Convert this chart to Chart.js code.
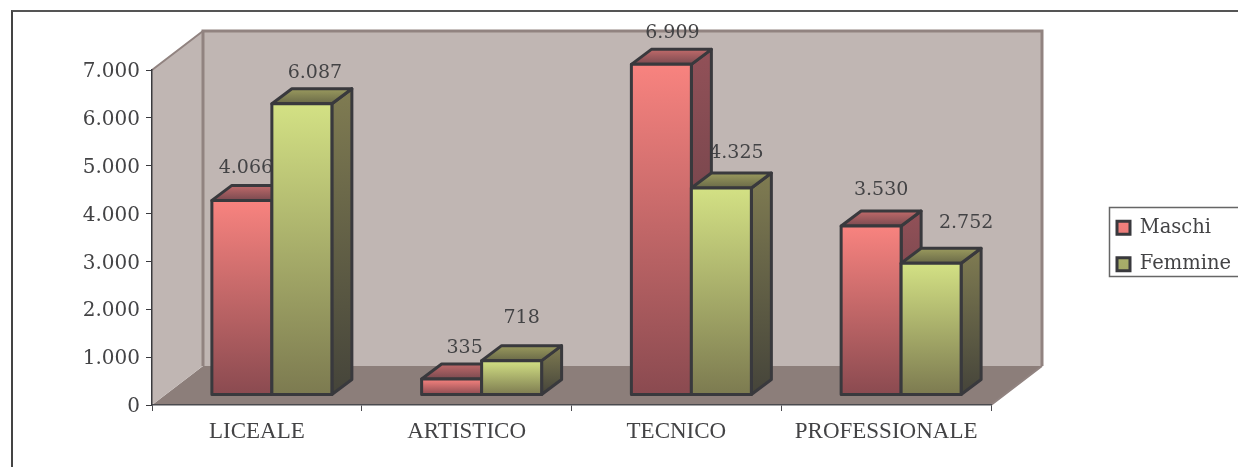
<!DOCTYPE html>
<html lang="it">
<head>
<meta charset="utf-8">
<title>Iscritti per tipo di scuola</title>
<script src="https://cdn.jsdelivr.net/npm/chart.js@4"></script>
<style>
    html, body { margin: 0; padding: 0; background: #fff; }
    #frame { position: absolute; left: 11px; top: 10px; width: 1227px; height: 457px; border-top: 2px solid #555; border-left: 2px solid #444; }
    canvas { position: absolute; left: 0; top: 0; }
</style>
</head>
<body>
<div id="frame"></div>
<canvas id="schoolChart" width="1238" height="467"></canvas>
<script>
// Dati
const categories = ['LICEALE', 'ARTISTICO', 'TECNICO', 'PROFESSIONALE'];
const maschi = [4066, 335, 6909, 3530];
const femmine = [6087, 718, 4325, 2752];
const yTickValues = [0, 1000, 2000, 3000, 4000, 5000, 6000, 7000];
const yTickLabels = ['0', '1.000', '2.000', '3.000', '4.000', '5.000', '6.000', '7.000'];
const maschiLabels = ['4.066', '335', '6.909', '3.530'];
const femmineLabels = ['6.087', '718', '4.325', '2.752'];

// Aspetto
const TEXT_COLOR = '#434345';
const EDGE_COLOR = '#39393d';
const NUM_FONT = '"DejaVu Serif", serif';
const CAT_FONT = '"Liberation Serif", serif';
const WALL_DEPTH = { x: 51, y: -39 };   // profondita della scatola 3D
const BAR_SHIFT = { x: 15, y: -10 };    // barre staccate dal bordo anteriore
const BAR_DEPTH = { x: 20, y: -15 };

const palette = [
    { front: ['#f8837f', '#8a4a50'], side: ['#925158', '#5a3a40'], top: ['#c06a6a', '#7a4a50'] },
    { front: ['#d3e184', '#7c7a50'], side: ['#807c52', '#45443a'], top: ['#9a9a5e', '#6a6a48'] }
];

// Spostamento delle etichette rispetto al centro della barra
const labelNudge = [
    [{ x: 4, y: -32 }, { x: 13, y: -31 }, { x: 11, y: -31 }, { x: 10, y: -36 }],
    [{ x: 13, y: -31 }, { x: 10, y: -43 }, { x: 15, y: -35 }, { x: 35, y: -40 }]
];
const datasetLabels = [maschiLabels, femmineLabels];

function verticalGradient(ctx, y0, y1, colors) {
    const g = ctx.createLinearGradient(0, y0, 0, y1);
    g.addColorStop(0, colors[0]);
    g.addColorStop(1, colors[1]);
    return g;
}

function polygon(ctx, points, fill, stroke, width) {
    ctx.beginPath();
    points.forEach((p, i) => i ? ctx.lineTo(p[0], p[1]) : ctx.moveTo(p[0], p[1]));
    ctx.closePath();
    if (fill) {
        ctx.fillStyle = fill;
        ctx.fill();
    }
    if (stroke) {
        ctx.strokeStyle = stroke;
        ctx.lineWidth = width;
        ctx.lineJoin = 'round';
        ctx.stroke();
    }
}

function barFill(index) {
    return function (context) {
        const ctx = context.chart.ctx;
        const colors = palette[index].front;
        if (context.raw === undefined) {
            // quadratino della legenda
            const y = index === 0 ? 218 : 254;
            return verticalGradient(ctx, y, y + 13, colors);
        }
        const scale = context.chart.scales.y;
        const y0 = scale.getPixelForValue(context.raw);
        const y1 = scale.getPixelForValue(0);
        // al primo reset le scale non hanno ancora una posizione
        if (!Number.isFinite(y0) || !Number.isFinite(y1)) {
            return colors[0];
        }
        return verticalGradient(ctx, y0, y1, colors);
    };
}

const box3d = {
    id: 'box3d',
    afterLayout(chart) {
        // La legenda sta fuori dall'area del grafico, sulla destra
        const legend = chart.legend;
        legend.left = 1100;
        legend.top = 201;
        legend.right = 1238;
        legend.bottom = 340;
    },
    beforeDraw(chart) {
        const ctx = chart.ctx;
        const a = chart.chartArea;
        const dx = WALL_DEPTH.x, dy = WALL_DEPTH.y;
        ctx.save();
        // pavimento, parete di fondo e parete sinistra
        polygon(ctx, [[a.left, a.bottom], [a.right, a.bottom], [a.right + dx, a.bottom + dy], [a.left + dx, a.bottom + dy]], '#8c7e7a');
        polygon(ctx, [[a.left + dx, a.top + dy], [a.right + dx, a.top + dy], [a.right + dx, a.bottom + dy], [a.left + dx, a.bottom + dy]], '#c0b6b3');
        polygon(ctx, [[a.left, a.top], [a.left + dx, a.top + dy], [a.left + dx, a.bottom + dy], [a.left, a.bottom]], '#c0b6b3');
        ctx.strokeStyle = '#918380';
        ctx.lineWidth = 3;
        ctx.beginPath();
        ctx.moveTo(a.left + dx, a.bottom + dy);
        ctx.lineTo(a.left + dx, a.top + dy);
        ctx.lineTo(a.right + dx, a.top + dy);
        ctx.lineTo(a.right + dx, a.bottom + dy);
        ctx.stroke();
        ctx.lineWidth = 2;
        ctx.beginPath();
        ctx.moveTo(a.left, a.top);
        ctx.lineTo(a.left + dx, a.top + dy);
        ctx.moveTo(a.right, a.bottom);
        ctx.lineTo(a.right + dx, a.bottom + dy);
        ctx.stroke();
        ctx.restore();
    },
    beforeDatasetsDraw(chart) {
        // Le etichette vanno sotto le barre: nell'originale vengono coperte
        const ctx = chart.ctx;
        ctx.save();
        ctx.font = '19px ' + NUM_FONT;
        ctx.fillStyle = TEXT_COLOR;
        ctx.textAlign = 'center';
        ctx.textBaseline = 'middle';
        datasetLabels.forEach((texts, d) => {
            chart.getDatasetMeta(d).data.forEach((bar, i) => {
                const nudge = labelNudge[d][i];
                ctx.fillText(texts[i], bar.x + BAR_SHIFT.x + nudge.x, bar.y + BAR_SHIFT.y + nudge.y);
            });
        });
        ctx.restore();
    },
    beforeDatasetDraw() {
        // Disegno manuale in afterDatasetsDraw, per avere Femmine sopra Maschi
        return false;
    },
    afterDatasetsDraw(chart) {
        const ctx = chart.ctx;
        palette.forEach((colors, d) => {
            chart.getDatasetMeta(d).data.forEach(bar => {
                const l = bar.x - bar.width / 2;
                const r = bar.x + bar.width / 2;
                const t = bar.y;
                const b = bar.base;
                const dx = BAR_DEPTH.x, dy = BAR_DEPTH.y;
                ctx.save();
                ctx.translate(BAR_SHIFT.x, BAR_SHIFT.y);
                polygon(ctx, [[r, t], [r + dx, t + dy], [r + dx, b + dy], [r, b]],
                    verticalGradient(ctx, t + dy, b, colors.side), EDGE_COLOR, 3);
                polygon(ctx, [[l, t], [l + dx, t + dy], [r + dx, t + dy], [r, t]],
                    verticalGradient(ctx, t + dy, t, colors.top), EDGE_COLOR, 3);
                bar.draw(ctx);
                polygon(ctx, [[l, t], [r, t], [r, b], [l, b]], null, EDGE_COLOR, 3);
                ctx.restore();
            });
        });
    },
    afterDraw(chart) {
        // Cornice della legenda
        const ctx = chart.ctx;
        ctx.save();
        ctx.strokeStyle = '#666';
        ctx.lineWidth = 1.5;
        ctx.strokeRect(1109.5, 207.5, 140, 69);
        ctx.restore();
    }
};

new Chart(document.getElementById('schoolChart'), {
    type: 'bar',
    data: {
        labels: categories,
        datasets: [
            { label: 'Maschi', data: maschi, backgroundColor: barFill(0), borderWidth: 0 },
            { label: 'Femmine', data: femmine, backgroundColor: barFill(1), borderWidth: 0 }
        ]
    },
    plugins: [box3d],
    options: {
        responsive: false,
        animation: false,
        events: [],
        layout: { padding: { top: 70, right: 247, bottom: 0, left: 0 } },
        datasets: { bar: { barPercentage: 1, categoryPercentage: 0.572 } },
        plugins: {
            tooltip: { enabled: false },
            legend: {
                position: 'chartArea',
                align: 'start',
                labels: {
                    color: TEXT_COLOR,
                    font: { family: NUM_FONT, size: 19.5 },
                    boxWidth: 13,
                    boxHeight: 13,
                    padding: 17,
                    generateLabels(chart) {
                        return Chart.defaults.plugins.legend.labels.generateLabels(chart).map(item => {
                            item.lineWidth = 3;
                            item.strokeStyle = EDGE_COLOR;
                            return item;
                        });
                    }
                }
            }
        },
        scales: {
            x: {
                afterFit(scale) { scale.height = 62; },
                border: { color: '#4a4a4e', width: 1.5 },
                grid: { drawOnChartArea: false, tickLength: 6, tickColor: '#4a4a4e', offset: true },
                ticks: { color: TEXT_COLOR, font: { family: CAT_FONT, size: 23 }, padding: 7, maxRotation: 0, autoSkip: false }
            },
            y: {
                min: 0,
                max: 7000,
                afterFit(scale) { scale.width = 152; },
                afterBuildTicks(scale) { scale.ticks = yTickValues.map(value => ({ value })); },
                border: { color: '#3a3a3e', width: 1.5 },
                grid: { drawOnChartArea: false, tickLength: 6, tickColor: '#3a3a3e' },
                ticks: {
                    color: TEXT_COLOR,
                    font: { family: NUM_FONT, size: 20 },
                    padding: 6,
                    labelOffset: 2,
                    callback: value => yTickLabels[yTickValues.indexOf(value)]
                }
            }
        }
    }
});
</script>
</body>
</html>
